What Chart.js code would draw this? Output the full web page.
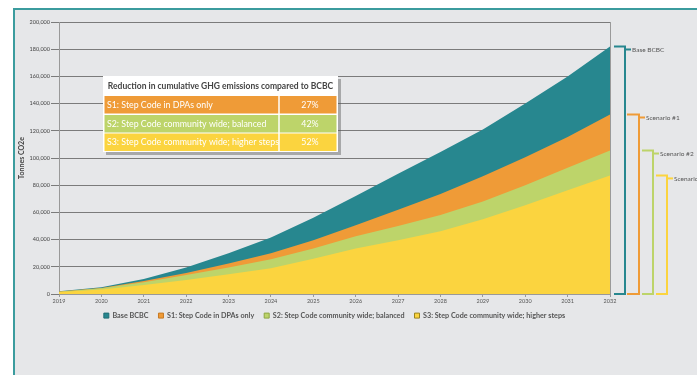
<!DOCTYPE html>
<html>
<head>
<meta charset="utf-8">
<script src="https://cdn.jsdelivr.net/npm/chart.js@4.4.1/dist/chart.umd.min.js"></script>
<style>
    html, body { margin: 0; padding: 0; background: #fff; }
</style>
</head>
<body>
<canvas id="myChart" width="697" height="375"></canvas>
<script>
const years = ['2019', '2020', '2021', '2022', '2023', '2024', '2025', '2026', '2027', '2028', '2029', '2030', '2031', '2032']
const baseBCBC = [2000, 5000, 11000, 19500, 30000, 41500, 56000, 72000, 88500, 104500, 121000, 140000, 160000, 182000]
const s1Values = [1800, 4500, 9500, 15500, 22500, 30000, 39500, 50500, 62000, 73500, 86500, 100500, 115500, 132000]
const s2Values = [1700, 4200, 8600, 14000, 19500, 25500, 33500, 42500, 50000, 58000, 68000, 80000, 92800, 105500]
const s3Values = [1500, 3400, 6600, 10300, 14500, 19000, 26000, 33500, 39500, 46200, 55000, 65200, 76200, 87200]
const seriesLabels = ['Base BCBC', 'S1: Step Code in DPAs only', 'S2: Step Code community wide; balanced', 'S3: Step Code community wide; higher steps']
const bracketLabels = ['Base BCBC', 'Scenario #1', 'Scenario #2', 'Scenario #3']
const tableTitle = 'Reduction in cumulative GHG emissions compared to BCBC'
const reductions = ['27%', '42%', '52%']

const colors = ['#27878f', '#ef9b37', '#bdd46a', '#fbd43f']
const boxBorders = ['#1f6e75', '#c77a22', '#8ea544', '#9a8420']
const font = 'Lato'

Chart.defaults.font.family = font

// grey panel with the teal frame on top / left
const panelPlugin = {
    id: 'panel',
    afterLayout: (chart) => {
        // pull the legend up a little, closer to the year labels
        chart.legend.top -= 4
        chart.legend.bottom -= 4
    },
    beforeDraw: (chart) => {
        const ctx = chart.ctx
        ctx.save()
        ctx.fillStyle = '#fff'
        ctx.fillRect(0, 0, chart.width, chart.height)
        ctx.fillStyle = '#e6e7e9'
        ctx.fillRect(13, 8, chart.width - 13, chart.height - 8)
        ctx.fillStyle = '#3b9c9e'
        ctx.fillRect(13, 8, chart.width - 13, 2)
        ctx.fillRect(13, 8, 2, chart.height - 8)
        ctx.restore()
    },
    afterDatasetsDraw: (chart) => {
        const ctx = chart.ctx
        const area = chart.chartArea
        ctx.save()
        ctx.strokeStyle = '#9a9a9a'
        ctx.lineWidth = 1
        ctx.beginPath()
        ctx.moveTo(area.right + 0.5, area.top)
        ctx.lineTo(area.right + 0.5, area.bottom)
        ctx.stroke()
        ctx.restore()
    }
}

// brackets on the right side of the plot
const bracketPlugin = {
    id: 'brackets',
    afterDraw: (chart) => {
        const ctx = chart.ctx
        const yScale = chart.scales.y
        const bottom = chart.chartArea.bottom
        const lefts = [614, 627, 642, 656]
        const arms = [11, 12, 11, 11]
        const series = [baseBCBC, s1Values, s2Values, s3Values]
        ctx.save()
        ctx.lineWidth = 2
        ctx.font = '6.5px ' + font
        ctx.textBaseline = 'middle'
        ctx.textAlign = 'left'
        series.forEach((vals, i) => {
            const top = yScale.getPixelForValue(vals[vals.length - 1])
            const xr = lefts[i] + arms[i]
            ctx.strokeStyle = colors[i]
            ctx.beginPath()
            ctx.moveTo(lefts[i], top)
            ctx.lineTo(xr, top)
            ctx.lineTo(xr, bottom)
            ctx.lineTo(lefts[i], bottom)
            ctx.stroke()
            ctx.beginPath()
            ctx.moveTo(xr, top + 3)
            ctx.lineTo(xr + 6, top + 3)
            ctx.stroke()
            ctx.fillStyle = '#555'
            ctx.fillText(bracketLabels[i], xr + 7, top + 3)
        })
        ctx.restore()
    }
}

// the "reduction" table drawn over the plot
const tablePlugin = {
    id: 'reductionTable',
    afterDraw: (chart) => {
        const ctx = chart.ctx
        const tx = 103, ty = 76, tw = 235, th = 76
        const rowTops = [96, 115, 133.5]
        const rowH = 17.5
        const splitX = 279
        ctx.save()
        ctx.fillStyle = 'rgba(90,90,90,0.45)'
        ctx.fillRect(tx + 3, ty + 3, tw, th)
        ctx.fillStyle = '#fff'
        ctx.fillRect(tx, ty, tw, th)
        ctx.fillStyle = '#444'
        ctx.font = 'bold 8.5px ' + font
        ctx.textAlign = 'center'
        ctx.textBaseline = 'middle'
        ctx.fillText(tableTitle, tx + tw / 2, ty + 10)
        rowTops.forEach((y0, i) => {
            ctx.fillStyle = colors[i + 1]
            ctx.fillRect(tx + 1.5, y0, tw - 3, rowH)
            ctx.fillStyle = '#fff'
            ctx.font = '8.8px ' + font
            ctx.textAlign = 'left'
            ctx.fillText(seriesLabels[i + 1], tx + 4, y0 + rowH / 2)
            ctx.textAlign = 'center'
            ctx.fillText(reductions[i], 310, y0 + rowH / 2)
        })
        ctx.strokeStyle = '#fff'
        ctx.lineWidth = 1.5
        ctx.beginPath()
        ctx.moveTo(splitX, rowTops[0])
        ctx.lineTo(splitX, rowTops[2] + rowH)
        ctx.stroke()
        ctx.restore()
    }
}

const allSeries = [baseBCBC, s1Values, s2Values, s3Values]

new Chart(document.getElementById('myChart').getContext('2d'), {
    type: 'line',
    data: {
        labels: years,
        datasets: allSeries.map((vals, i) => ({
            label: seriesLabels[i],
            data: vals,
            fill: 'origin',
            backgroundColor: colors[i],
            borderColor: colors[i],
            borderWidth: 0,
            pointRadius: 0,
            tension: 0,
            order: 4 - i
        }))
    },
    options: {
        responsive: false,
        animation: false,
        layout: {
            padding: { left: 15, top: 22, right: 87, bottom: 41.8 }
        },
        plugins: {
            tooltip: { enabled: false },
            legend: {
                position: 'bottom',
                fullSize: false,
                labels: {
                    boxWidth: 5,
                    boxHeight: 5,
                    padding: 10,
                    color: '#555',
                    font: { size: 7.2, weight: 'bold' },
                    sort: (a, b) => a.datasetIndex - b.datasetIndex,
                    generateLabels: (chart) => {
                        const items = Chart.defaults.plugins.legend.labels.generateLabels(chart)
                        return items.map(item => ({
                            ...item,
                            lineWidth: 1,
                            strokeStyle: boxBorders[item.datasetIndex]
                        }))
                    }
                }
            }
        },
        scales: {
            x: {
                grid: { drawOnChartArea: false, tickLength: 3, color: '#999' },
                border: { color: '#999' },
                ticks: { color: '#555', font: { size: 5.5 }, padding: 1, maxRotation: 0, autoSkip: false },
                afterFit: (scale) => { scale.height = 12 }
            },
            y: {
                min: 0,
                max: 200000,
                ticks: {
                    stepSize: 20000,
                    color: '#444',
                    font: { size: 5.5 },
                    padding: 1,
                    callback: (v) => v.toLocaleString('en-US')
                },
                grid: { color: '#7b7b7b', lineWidth: 1, tickLength: 8 },
                border: { color: '#999' },
                title: {
                    display: true,
                    text: 'Tonnes CO2e',
                    color: '#444',
                    font: { size: 7, weight: 'bold' },
                    padding: 3
                },
                afterFit: (scale) => { scale.width = 44 }
            }
        }
    },
    plugins: [panelPlugin, bracketPlugin, tablePlugin]
})
</script>
</body>
</html>
